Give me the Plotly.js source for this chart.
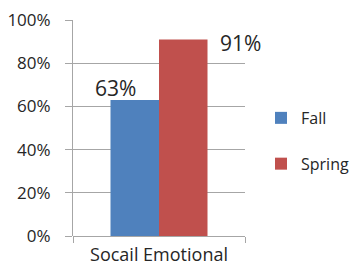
<!DOCTYPE html>
<html><head><meta charset="utf-8">
<script src="https://cdn.plot.ly/plotly-3.0.1.min.js"></script>
<style>html,body{margin:0;padding:0;background:#fff}#chart{width:359px;height:271px}</style>
</head><body><div id="chart"></div>
<script>
const categories = ["Socail Emotional"];
const seriesNames = ["Fall", "Spring"];
const fallValues = [0.63];
const springValues = [0.91];
const fallLabels = ["63%"];
const springLabels = ["91%"];
const yTickVals = [0, 0.2, 0.4, 0.6, 0.8, 1.0];

const font = "Open Sans, Liberation Sans, sans-serif";
const grid = "#a6a6a6";
const txt = "#262626";

const data = [
  {type:"bar", name:seriesNames[0], x:categories, y:fallValues, marker:{color:"#4F81BD"}, legendgroup:"a", hoverinfo:"none"},
  {type:"bar", name:seriesNames[1], x:categories, y:springValues, marker:{color:"#C0504D"}, legendgroup:"b", hoverinfo:"none"}
];

const annotations = [
  {x:categories[0], y:fallValues[0], xref:"x", yref:"y", text:fallLabels[0], showarrow:false, xshift:-44, yshift:12, yanchor:"middle", font:{family:font, size:21, color:txt}},
  {x:categories[0], y:springValues[0], xref:"x", yref:"y", text:springLabels[0], showarrow:false, xshift:81, yshift:-4, yanchor:"middle", font:{family:font, size:21, color:txt}}
];

const layout = {
  width:359, height:271,
  margin:{l:73, r:114, t:20, b:35, pad:0, autoexpand:false},
  paper_bgcolor:"#fff", plot_bgcolor:"#fff",
  barmode:"group", bargap:0.436, bargroupgap:0,
  showlegend:true,
  legend:{x:261/359, xref:"container", xanchor:"left", y:0.44, yanchor:"middle", font:{family:font, size:16, color:txt}, traceorder:"grouped", tracegroupgap:22, itemwidth:30, bgcolor:"rgba(0,0,0,0)"},
  font:{family:font, color:txt},
  xaxis:{type:"category", range:[-0.5,0.5], autorange:false, showgrid:false, showline:false, ticks:"outside", tickson:"boundaries", ticklen:6, tickcolor:grid, ticklabelstandoff:6, tickfont:{family:font, size:18, color:txt}, zeroline:false},
  yaxis:{range:[0,1], autorange:false, tickvals:yTickVals, tickformat:".0%", showgrid:true, gridcolor:grid, showline:true, linecolor:grid, linewidth:1, ticks:"outside", ticklen:7, tickcolor:grid, ticklabelstandoff:11, zeroline:true, zerolinecolor:grid, zerolinewidth:1, tickfont:{family:font, size:17, color:txt}},
  annotations:annotations
};

Plotly.newPlot("chart", data, layout, {staticPlot:true, displayModeBar:false});
</script></body></html>
